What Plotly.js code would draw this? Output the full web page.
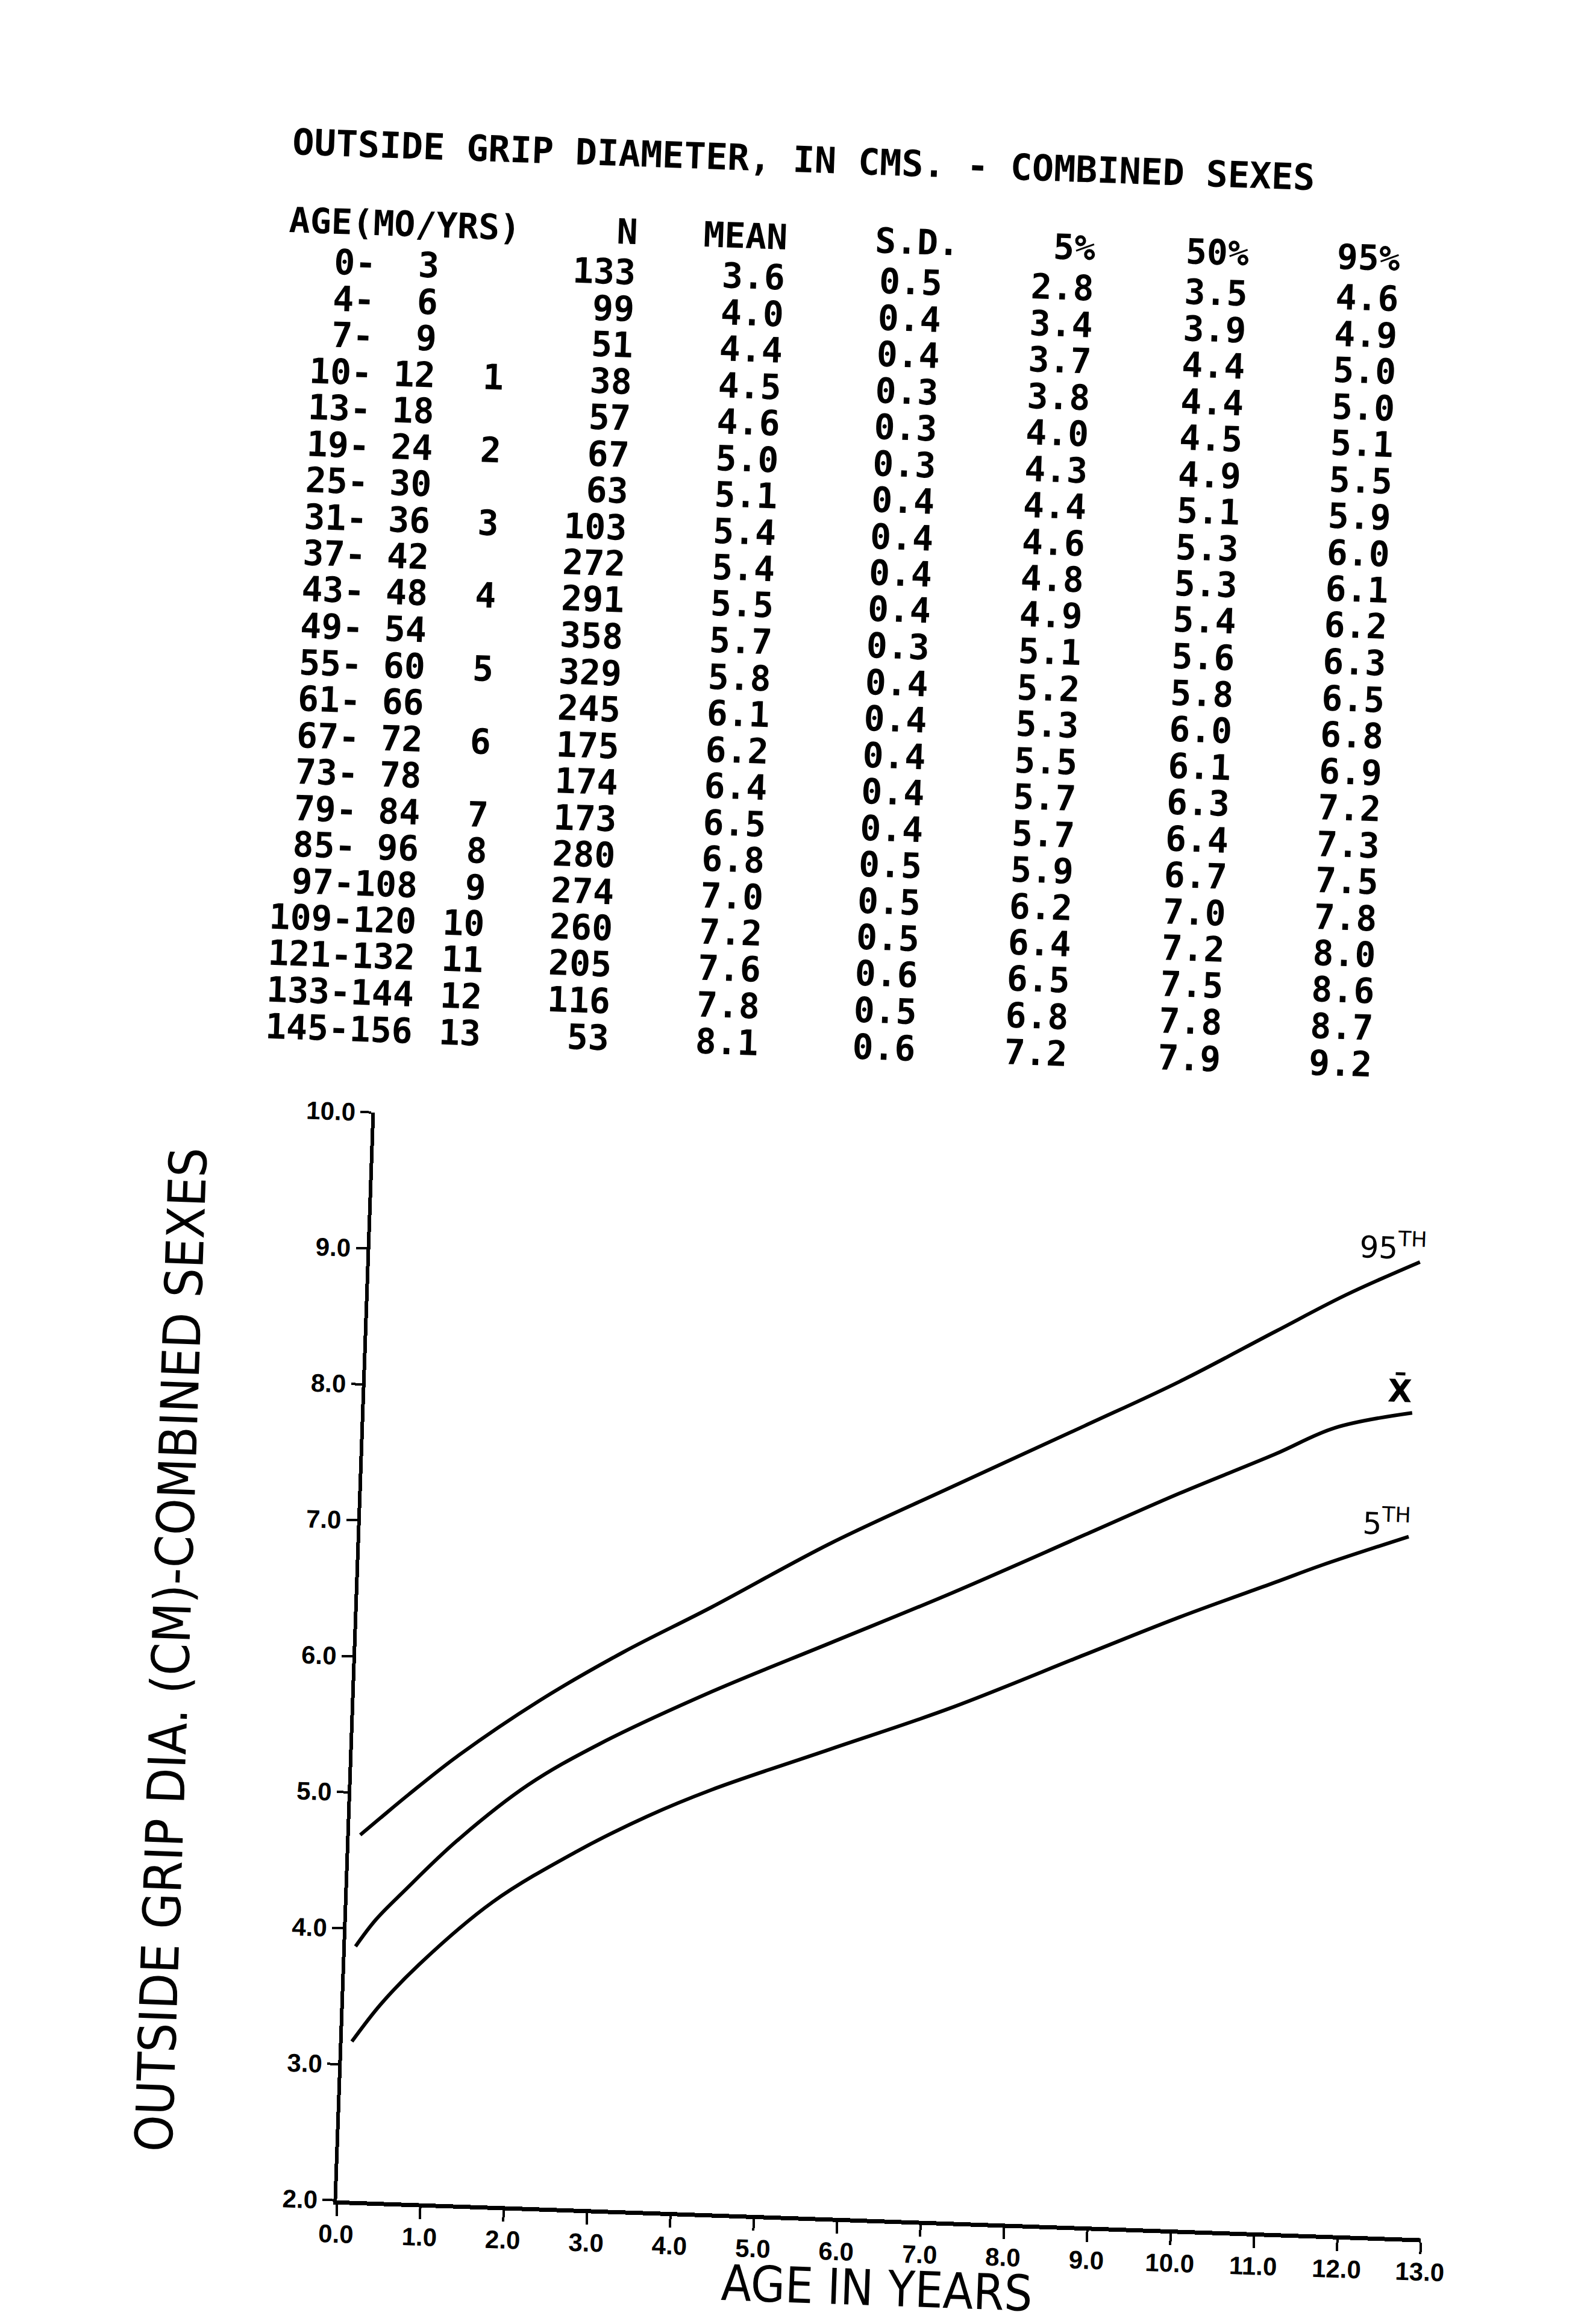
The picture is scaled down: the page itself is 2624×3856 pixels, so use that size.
<!DOCTYPE html>
<html><head><meta charset="utf-8">
<script src="https://cdn.plot.ly/plotly-3.0.1.min.js"></script>
<style>
html,body{margin:0;padding:0;background:#fff;overflow:hidden;width:2624px;height:3856px;}
#chart{width:2624px;height:3856px;transform:rotate(2deg);transform-origin:1312px 1928px;}
</style></head><body><div id="chart"></div>
<script>
// ---- curve data (age in years, grip diameter in cm) ----
const p95Age  = [0.125, 0.36, 0.69, 1.25, 2.21, 3.20, 4.23, 5.63, 7.04, 8.63, 9.75, 10.87, 11.71, 12.58];
const p95Val  = [4.69, 4.82, 5.00, 5.29, 5.72, 6.10, 6.45, 6.95, 7.39, 7.88, 8.23, 8.62, 8.91, 9.17];
const meanAge = [0.115, 0.345, 0.676, 1.283, 2.115, 2.955, 4.268, 5.674, 7.08, 8.68, 9.80, 10.92, 11.63, 12.55];
const meanVal = [3.87, 4.07, 4.29, 4.67, 5.10, 5.42, 5.83, 6.22, 6.61, 7.08, 7.41, 7.72, 7.93, 8.06];
const p5Age   = [0.111, 0.44, 0.879, 1.737, 2.714, 3.555, 4.308, 5.718, 7.13, 8.73, 9.85, 10.98, 11.54, 12.56];
const p5Val   = [3.17, 3.45, 3.75, 4.23, 4.62, 4.90, 5.11, 5.44, 5.77, 6.20, 6.50, 6.78, 6.92, 7.15];

// ---- table data ----
const ageFrom  = [0,4,7,10,13,19,25,31,37,43,49,55,61,67,73,79,85,97,109,121,133,145];
const ageTo    = [3,6,9,12,18,24,30,36,42,48,54,60,66,72,78,84,96,108,120,132,144,156];
const yearMark = ["","","","1","","2","","3","","4","","5","","6","","7","8","9","10","11","12","13"];
const nCount   = [133,99,51,38,57,67,63,103,272,291,358,329,245,175,174,173,280,274,260,205,116,53];
const meanTab  = [3.6,4.0,4.4,4.5,4.6,5.0,5.1,5.4,5.4,5.5,5.7,5.8,6.1,6.2,6.4,6.5,6.8,7.0,7.2,7.6,7.8,8.1];
const sdTab    = [0.5,0.4,0.4,0.3,0.3,0.3,0.4,0.4,0.4,0.4,0.3,0.4,0.4,0.4,0.4,0.4,0.5,0.5,0.5,0.6,0.5,0.6];
const pct5Tab  = [2.8,3.4,3.7,3.8,4.0,4.3,4.4,4.6,4.8,4.9,5.1,5.2,5.3,5.5,5.7,5.7,5.9,6.2,6.4,6.5,6.8,7.2];
const pct50Tab = [3.5,3.9,4.4,4.4,4.5,4.9,5.1,5.3,5.3,5.4,5.6,5.8,6.0,6.1,6.3,6.4,6.7,7.0,7.2,7.5,7.8,7.9];
const pct95Tab = [4.6,4.9,5.0,5.0,5.1,5.5,5.9,6.0,6.1,6.2,6.3,6.5,6.8,6.9,7.2,7.3,7.5,7.8,8.0,8.6,8.7,9.2];
const tableHeaders = ["AGE(MO/YRS)","N","MEAN","S.D.","5%","50%","95%"];
const tableTitle = "OUTSIDE GRIP DIAMETER, IN CMS. - COMBINED SEXES";

// ---- axis ticks / labels ----
const xTickVals = [0,1,2,3,4,5,6,7,8,9,10,11,12,13];
const xTickText = ["0.0","1.0","2.0","3.0","4.0","5.0","6.0","7.0","8.0","9.0","10.0","11.0","12.0","13.0"];
const yTickVals = [2,3,4,5,6,7,8,9,10];
const yTickText = ["2.0","3.0","4.0","5.0","6.0","7.0","8.0","9.0","10.0"];
const xTitle = "AGE IN YEARS";
const yTitle = "OUTSIDE GRIP DIA. (CM)-COMBINED SEXES";
const curveLabelText = ["95<sup>TH</sup>", "X\u0304", "5<sup>TH</sup>"];
const curveLabelX = [12.25, 12.39, 12.29];
const curveLabelY = [9.28, 8.22, 7.25];

// ---- layout geometry (pixels) ----
const W = 2624, H = 3856;
const PL = 620, PR = 2420, PT = 1870, PB = 3676;
const px2x = p => (p - PL) / (PR - PL);
const py2y = p => (PB - p) / (PB - PT);

const nb = s => String(s).replace(/ /g, "\u00A0");
const pad3 = v => String(v).padStart(3, " ");

const monoFont = {family: "DejaVu Sans Mono", size: 58, color: "#000", weight: "bold"};
const annotations = [];
function addText(text, xpx, ypx, anchor, font, angle) {
  annotations.push({text: nb(text), xref: "paper", yref: "paper", x: px2x(xpx), y: py2y(ypx),
    xanchor: anchor, yanchor: "middle", showarrow: false, font: font || monoFont, borderpad: 0,
    textangle: angle || 0});
}
// header row
const headerY = 395;
const headerPos = [[425, "left"], [1006, "right"], [1255, "right"], [1540, "right"], [1766, "right"], [2021, "right"], [2272, "right"]];
tableHeaders.forEach((h, i) => addText(h, headerPos[i][0], headerY, headerPos[i][1]));
// body rows
const row0 = 462, rowStep = 60.5;
const colRight = {age: 678, yr: 792, n: 1005, mean: 1253, sd: 1514, p5: 1766, p50: 2021, p95: 2272};
for (let r = 0; r < ageFrom.length; r++) {
  const y = row0 + r * rowStep;
  addText(pad3(ageFrom[r]) + "-" + pad3(ageTo[r]), colRight.age, y, "right");
  if (yearMark[r]) addText(yearMark[r], colRight.yr, y, "right");
  addText(String(nCount[r]), colRight.n, y, "right");
  addText(meanTab[r].toFixed(1), colRight.mean, y, "right");
  addText(sdTab[r].toFixed(1), colRight.sd, y, "right");
  addText(pct5Tab[r].toFixed(1), colRight.p5, y, "right");
  addText(pct50Tab[r].toFixed(1), colRight.p50, y, "right");
  addText(pct95Tab[r].toFixed(1), colRight.p95, y, "right");
}
// axis titles (placed as text at the reference positions)
const titleFont = {family: "DejaVu Sans Condensed, sans-serif", size: 86, color: "#000"};
addText(yTitle, 313, (PT + PB) / 2, "center", titleFont, -90);
addText(xTitle, (PL + PR) / 2, 3790, "center", {family: "DejaVu Sans Condensed, sans-serif", size: 82, color: "#000"});

// curve labels
const labelFont = {family: "DejaVu Sans", size: 50, color: "#000"};
curveLabelText.forEach((t, i) => annotations.push({text: t, x: curveLabelX[i], y: curveLabelY[i],
  xref: "x", yref: "y", showarrow: false, xanchor: "center", yanchor: "middle",
  font: i === 1 ? {family: "DejaVu Sans", size: 52, color: "#000", weight: "bold"} : labelFont}));

const lineStyle = {color: "#000", width: 6, shape: "spline", smoothing: 1};
const traces = [
  {x: p95Age, y: p95Val, type: "scatter", mode: "lines", line: lineStyle, name: "95th", hoverinfo: "skip"},
  {x: meanAge, y: meanVal, type: "scatter", mode: "lines", line: lineStyle, name: "Mean", hoverinfo: "skip"},
  {x: p5Age, y: p5Val, type: "scatter", mode: "lines", line: lineStyle, name: "5th", hoverinfo: "skip"}
];

const tickFont = {family: "Liberation Sans", size: 42, color: "#000", weight: "bold"};

const layout = {
  width: W, height: H,
  margin: {l: PL, r: W - PR, t: PT, b: H - PB, pad: 0},
  paper_bgcolor: "#fff", plot_bgcolor: "#fff",
  showlegend: false,
  title: {text: tableTitle, x: 427 / W, xanchor: "left", y: 1 - 265 / H, yanchor: "middle",
    xref: "container", yref: "container",
    font: {family: "DejaVu Sans Mono", size: 60, color: "#000", weight: "bold"}},
  xaxis: {range: [0, 13], showgrid: false, zeroline: false, showline: true, linewidth: 7, linecolor: "#000",
    tickmode: "array", tickvals: xTickVals, ticktext: xTickText, ticks: "outside", ticklen: 19,
    tickwidth: 4, tickcolor: "#000", tickfont: tickFont, ticklabelstandoff: -6},
  xaxis2: {range: [0, 13], overlaying: "x", anchor: "y", side: "bottom", showgrid: false, zeroline: false,
    showline: false, tickmode: "array", tickvals: xTickVals, ticks: "inside", ticklen: 21, tickwidth: 4,
    tickcolor: "#000", showticklabels: false},
  yaxis: {range: [2, 10], showgrid: false, zeroline: false, showline: true, linewidth: 6, linecolor: "#000",
    tickmode: "array", tickvals: yTickVals, ticktext: yTickText, ticks: "outside", ticklen: 18,
    tickwidth: 4, tickcolor: "#000", tickfont: tickFont},
  yaxis2: {range: [2, 10], overlaying: "y", anchor: "x", side: "left", showgrid: false, zeroline: false,
    showline: false, tickmode: "array", tickvals: yTickVals, ticks: "inside", ticklen: 22, tickwidth: 4,
    tickcolor: "#000", showticklabels: false},
  annotations: annotations
};

Plotly.newPlot("chart", traces, layout, {staticPlot: true, displayModeBar: false});
</script></body></html>
